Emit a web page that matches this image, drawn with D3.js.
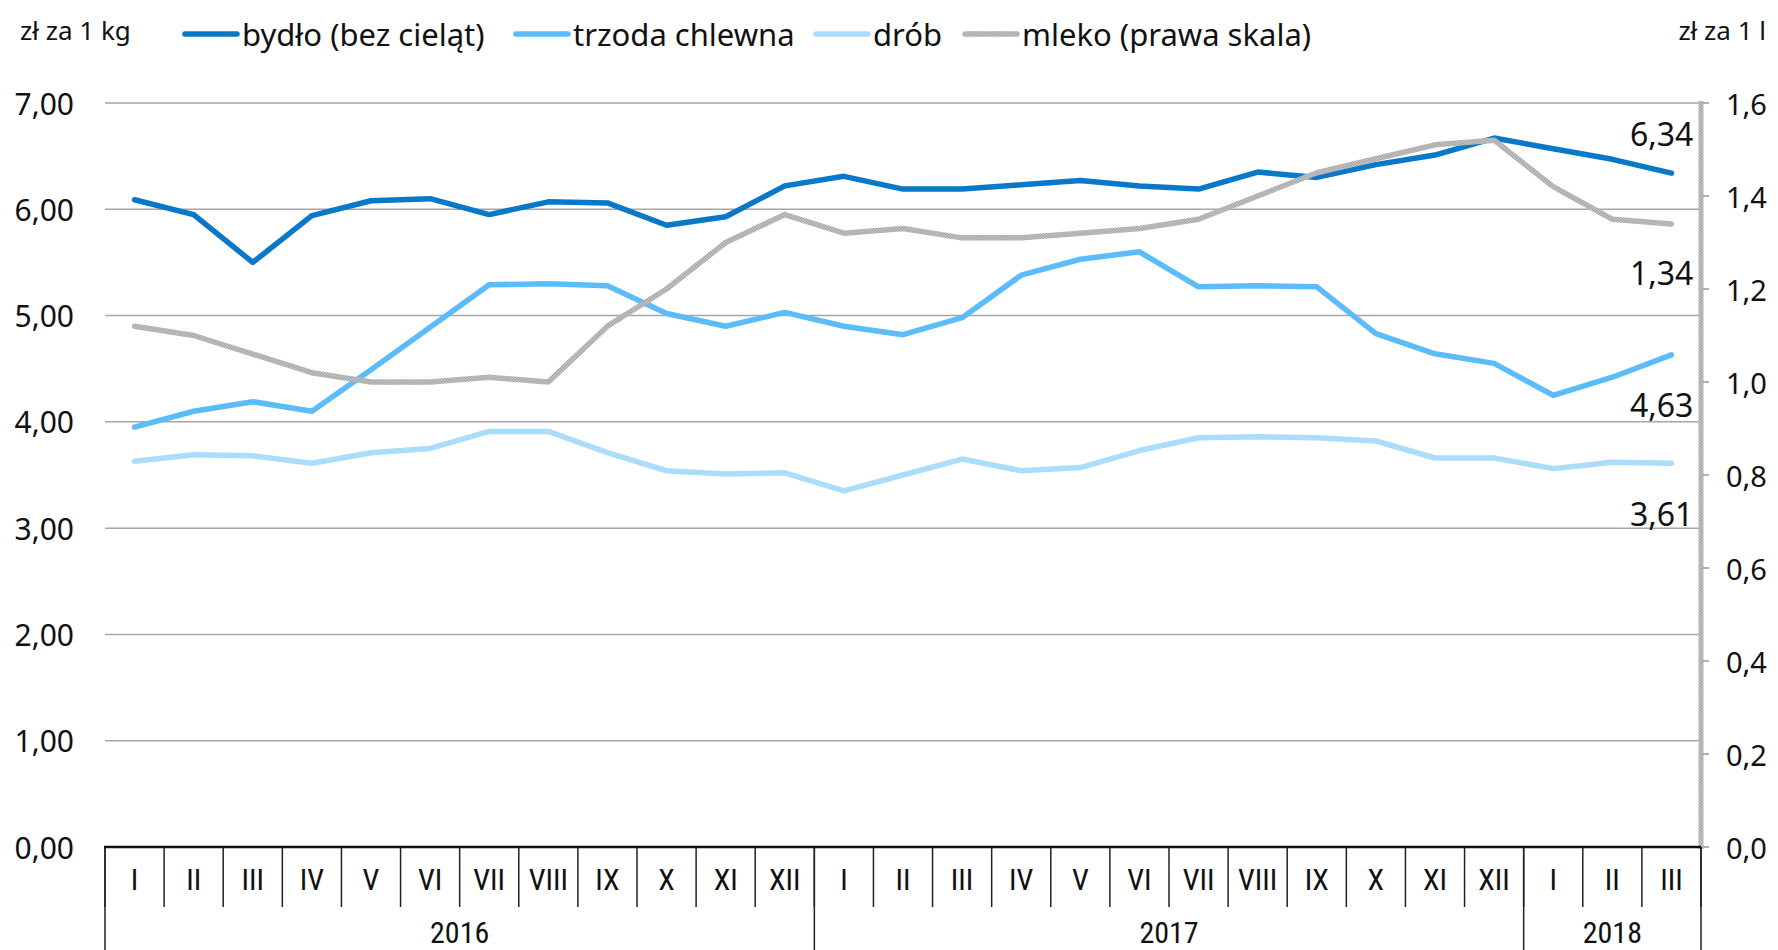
<!DOCTYPE html>
<html>
<head>
<meta charset="utf-8">
<script src="https://cdn.jsdelivr.net/npm/d3@7"></script>
<style>
  body { margin: 0; background: #fff; }
  svg { display: block; }
  text { font-family: "Noto Sans", "Open Sans", sans-serif; fill: #111; }
  .cat { font-family: "Liberation Sans Narrow", "Roboto", sans-serif; font-stretch: condensed; }
</style>
</head>
<body>
<div id="chart"></div>
<script>
// months on the category axis, Jan 2016 - Mar 2018
var months = ["I","II","III","IV","V","VI","VII","VIII","IX","X","XI","XII",
              "I","II","III","IV","V","VI","VII","VIII","IX","X","XI","XII",
              "I","II","III"];
var years = ["2016", "2017", "2018"];
var yearSpans = [12, 12, 3];

// prices, zł za 1 kg
var bydlo = [6.09,5.95,5.50,5.94,6.08,6.10,5.95,6.07,6.06,5.85,5.93,6.22,
             6.31,6.19,6.19,6.23,6.27,6.22,6.19,6.35,6.30,6.42,6.51,6.67,
             6.57,6.47,6.34];
var trzoda = [3.95,4.10,4.19,4.10,4.49,4.89,5.29,5.30,5.28,5.02,4.90,5.03,
              4.90,4.82,4.98,5.38,5.53,5.60,5.27,5.28,5.27,4.83,4.64,4.55,
              4.25,4.42,4.63];
var drob = [3.63,3.69,3.68,3.61,3.71,3.75,3.91,3.91,3.71,3.54,3.51,3.52,
            3.35,3.50,3.65,3.54,3.57,3.73,3.85,3.86,3.85,3.82,3.66,3.66,
            3.56,3.62,3.61];
// milk, zł za 1 l (right scale)
var mleko = [1.12,1.10,1.06,1.02,1.00,1.00,1.01,1.00,1.12,1.20,1.30,1.36,
             1.32,1.33,1.31,1.31,1.32,1.33,1.35,1.40,1.45,1.48,1.51,1.52,
             1.42,1.35,1.34];

var leftTicks = [0, 1, 2, 3, 4, 5, 6, 7];
var rightTicks = [0, 0.2, 0.4, 0.6, 0.8, 1.0, 1.2, 1.4, 1.6];

var width = 1778, height = 950;
var margin = {top: 103, right: 77, bottom: 103, left: 105};
var fmt2 = function(v) { return d3.format(".2f")(v).replace(".", ","); };
var fmt1 = function(v) { return d3.format(".1f")(v).replace(".", ","); };

var svg = d3.select("#chart").append("svg")
    .attr("width", width).attr("height", height);

// textured grey for the milk series
var defs = svg.append("defs");
var pat = defs.append("pattern")
    .attr("id", "milk")
    .attr("width", 3).attr("height", 3)
    .attr("patternUnits", "userSpaceOnUse");
pat.append("rect").attr("width", 3).attr("height", 3).attr("fill", "#c8c8c8");
pat.append("rect").attr("width", 1.5).attr("height", 1.5).attr("fill", "#a2a2a2");
pat.append("rect").attr("x", 1.5).attr("y", 1.5)
    .attr("width", 1.5).attr("height", 1.5).attr("fill", "#a2a2a2");

var x = d3.scaleBand()
    .domain(d3.range(months.length))
    .range([margin.left, width - margin.right])
    .padding(0);
var y = d3.scaleLinear().domain([0, 7])
    .range([height - margin.bottom, margin.top]);
var y2 = d3.scaleLinear().domain([0, 1.6])
    .range([height - margin.bottom, margin.top]);
var cx = function(i) { return x(i) + x.bandwidth() / 2; };

// gridlines
svg.append("g").selectAll("line")
    .data(leftTicks.slice(1)).enter().append("line")
    .attr("x1", margin.left).attr("x2", width - margin.right)
    .attr("y1", function(d) { return y(d); })
    .attr("y2", function(d) { return y(d); })
    .style("stroke", "#a6a6a6").style("stroke-width", 1.5);

// left axis labels
svg.append("g").selectAll("text")
    .data(leftTicks).enter().append("text")
    .attr("x", 74).attr("y", function(d) { return y(d); })
    .attr("text-anchor", "end")
    .attr("dominant-baseline", "central")
    .style("font-size", "30px")
    .text(fmt2);

// right axis
var rx = width - margin.right;
svg.append("line")
    .attr("x1", rx).attr("x2", rx)
    .attr("y1", y2(1.6) - 2).attr("y2", y2(0) + 2)
    .style("stroke", "url(#milk)").style("stroke-width", 5);
svg.append("g").selectAll("line")
    .data(rightTicks).enter().append("line")
    .attr("x1", rx).attr("x2", rx + 8)
    .attr("y1", function(d) { return y2(d); })
    .attr("y2", function(d) { return y2(d); })
    .style("stroke", "#b0b0b0").style("stroke-width", 2);
svg.append("g").selectAll("text")
    .data(rightTicks).enter().append("text")
    .attr("x", 1726).attr("y", function(d) { return y2(d); })
    .attr("dominant-baseline", "central")
    .style("font-size", "29px")
    .text(fmt1);

// unit labels
svg.append("text").attr("x", 20).attr("y", 30)
    .attr("dominant-baseline", "central")
    .style("font-size", "26px").text("zł za 1 kg");
svg.append("text").attr("x", 1766).attr("y", 30)
    .attr("text-anchor", "end")
    .attr("dominant-baseline", "central")
    .style("font-size", "26px").text("zł za 1 l");

// category axis
var base = y(0);
var cat = svg.append("g");
cat.selectAll("line.m")
    .data(d3.range(months.length + 1)).enter().append("line")
    .attr("class", "m")
    .attr("x1", function(i) { return margin.left + i * x.bandwidth(); })
    .attr("x2", function(i) { return margin.left + i * x.bandwidth(); })
    .attr("y1", base).attr("y2", base + 60)
    .style("stroke", "#222").style("stroke-width", 1.5);
var yearEdges = [0];
yearSpans.forEach(function(n, i) { yearEdges.push(yearEdges[i] + n); });
cat.selectAll("line.y")
    .data(yearEdges).enter().append("line")
    .attr("class", "y")
    .attr("x1", function(i) { return margin.left + i * x.bandwidth(); })
    .attr("x2", function(i) { return margin.left + i * x.bandwidth(); })
    .attr("y1", base).attr("y2", height)
    .style("stroke", "#222").style("stroke-width", 1.5);
cat.selectAll("text.m")
    .data(months).enter().append("text")
    .attr("class", "cat")
    .attr("x", function(d, i) { return cx(i); })
    .attr("y", base + 32)
    .attr("text-anchor", "middle")
    .attr("dominant-baseline", "central")
    .style("font-size", "30px")
    .text(function(d) { return d; });
cat.selectAll("text.y")
    .data(years).enter().append("text")
    .attr("class", "cat")
    .attr("x", function(d, i) {
      return margin.left + (yearEdges[i] + yearSpans[i] / 2) * x.bandwidth();
    })
    .attr("y", base + 85)
    .attr("text-anchor", "middle")
    .attr("dominant-baseline", "central")
    .style("font-size", "30px")
    .text(function(d) { return d; });
svg.append("line")
    .attr("x1", margin.left - 1).attr("x2", width - margin.right)
    .attr("y1", base).attr("y2", base)
    .style("stroke", "#111").style("stroke-width", 2.5);

// series
var series = [
  {name: "bydło (bez cieląt)", values: bydlo, scale: y, color: "#0a78c8"},
  {name: "trzoda chlewna", values: trzoda, scale: y, color: "#5cbcf9"},
  {name: "drób", values: drob, scale: y, color: "#acdcfc"},
  {name: "mleko (prawa skala)", values: mleko, scale: y2, color: "url(#milk)"}
];

series.forEach(function(s) {
  var line = d3.line()
      .x(function(d, i) { return cx(i); })
      .y(function(d) { return s.scale(d); });
  svg.append("path")
    .datum(s.values)
    .attr("d", line)
    .style("fill", "none")
    .style("stroke", s.color)
    .style("stroke-width", 5.5)
    .style("stroke-linejoin", "round")
    .style("stroke-linecap", "round");
});

// end labels
var last = months.length - 1;
var endLabels = [
  {v: bydlo[last], scale: y, dy: -40},
  {v: mleko[last], scale: y2, dy: 49},
  {v: trzoda[last], scale: y, dy: 50},
  {v: drob[last], scale: y, dy: 50}
];
svg.append("g").selectAll("text")
    .data(endLabels).enter().append("text")
    .attr("x", cx(last) + 22)
    .attr("y", function(d) { return d.scale(d.v) + d.dy; })
    .attr("text-anchor", "end")
    .attr("dominant-baseline", "central")
    .style("font-size", "32px")
    .text(function(d) { return fmt2(d.v); });

// legend
var legendX = [185, 516, 816, 965];
var lg = svg.append("g").selectAll("g")
    .data(series).enter().append("g")
    .attr("transform", function(d, i) { return "translate(" + legendX[i] + ",34)"; });
lg.append("line")
    .attr("x1", 0).attr("x2", 52)
    .style("stroke", function(d) { return d.color; })
    .style("stroke-width", 5.5)
    .style("stroke-linecap", "round");
lg.append("text")
    .attr("x", 57)
    .attr("dominant-baseline", "central")
    .style("font-size", "31px")
    .text(function(d) { return d.name; });
</script>
</body>
</html>
